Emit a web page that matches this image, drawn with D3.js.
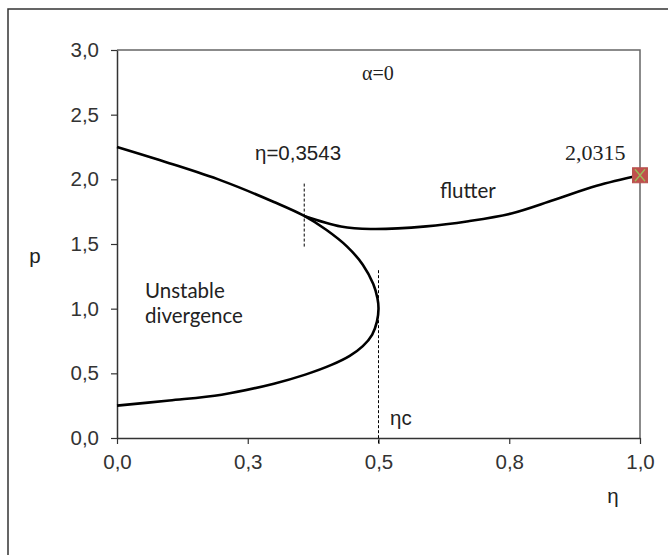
<!DOCTYPE html>
<html>
<head>
<meta charset="utf-8">
<script src="https://cdn.jsdelivr.net/npm/d3@7/dist/d3.min.js"></script>
<style>
  body { margin: 0; background: #fff; }
  svg { display: block; }
</style>
</head>
<body>
<svg id="chart" width="668" height="555"></svg>
<script>
// divergence boundary: upper branch down to the nose at eta=0.5, then back along the lower branch
var divEta = [0, 0.1, 0.2, 0.3, 0.358, 0.4, 0.44, 0.47, 0.49, 0.498, 0.5, 0.497, 0.488, 0.47, 0.445, 0.41, 0.36, 0.3, 0.2, 0.1, 0];
var divP   = [2.25, 2.125, 1.99, 1.825, 1.717, 1.61, 1.48, 1.34, 1.19, 1.08, 1.0, 0.9, 0.8, 0.71, 0.635, 0.565, 0.49, 0.42, 0.335, 0.29, 0.25];

// flutter boundary
var flutEta = [0.358, 0.428, 0.485, 0.591, 0.672, 0.754, 0.835, 0.917, 1.0];
var flutP   = [1.717, 1.636, 1.616, 1.636, 1.676, 1.736, 1.84, 1.95, 2.0315];

var xTicks = [0, 0.25, 0.5, 0.75, 1.0];
var xTickLabels = ["0,0", "0,3", "0,5", "0,8", "1,0"];
var yTicks = [0, 0.5, 1.0, 1.5, 2.0, 2.5, 3.0];
var yTickLabels = ["0,0", "0,5", "1,0", "1,5", "2,0", "2,5", "3,0"];

var endPoint = {eta: 1.0, p: 2.0315};
var etaStar = 0.358, etaC = 0.5;

var svg = d3.select("#chart");
var margin = {left: 117, right: 28, top: 50, bottom: 117};
var W = 668, H = 555;

var x = d3.scaleLinear().domain([0, 1]).range([margin.left, W - margin.right]);
var y = d3.scaleLinear().domain([0, 3]).range([H - margin.bottom, margin.top]);

var sans = "'Liberation Sans', Arial, sans-serif";
var serif = "'Liberation Serif', 'Times New Roman', serif";
var calibri = "Lato, 'Open Sans', sans-serif";

// outer frame
svg.append("rect")
    .attr("x", 8).attr("y", 9)
    .attr("width", 720).attr("height", 620)
    .attr("fill", "none")
    .attr("stroke", "#333")
    .attr("stroke-width", 1.5);

// plot box (top and right sides)
svg.append("path")
    .attr("d", "M" + x(0) + "," + y(3) + "H" + x(1) + "V" + y(0))
    .attr("fill", "none")
    .attr("stroke", "#666")
    .attr("stroke-width", 1.5);

var xAxis = svg.append("g")
    .attr("transform", "translate(0," + y(0) + ")")
    .call(d3.axisBottom(x).tickValues(xTicks)
        .tickFormat(function(d, i) { return xTickLabels[i]; })
        .tickSize(6).tickSizeOuter(0).tickPadding(10));

var yAxis = svg.append("g")
    .attr("transform", "translate(" + x(0) + ",0)")
    .call(d3.axisLeft(y).tickValues(yTicks)
        .tickFormat(function(d, i) { return yTickLabels[i]; })
        .tickSize(6).tickSizeOuter(0).tickPadding(12));

[xAxis, yAxis].forEach(function(g) {
    g.select(".domain").attr("stroke", "#333").attr("stroke-width", 1.5);
    g.selectAll(".tick line").attr("stroke", "#333").attr("stroke-width", 1.2);
    g.selectAll(".tick text")
        .attr("fill", "#333")
        .style("font-family", sans)
        .style("font-size", "20.5px");
});

// dashed guide lines
var guides = [
    {eta: etaStar, p0: 1.48, p1: 1.98},
    {eta: etaC, p0: -0.04, p1: 1.3}
];
svg.selectAll(".guide").data(guides).enter().append("line")
    .attr("class", "guide")
    .attr("x1", function(d) { return x(d.eta); })
    .attr("x2", function(d) { return x(d.eta); })
    .attr("y1", function(d) { return y(d.p0); })
    .attr("y2", function(d) { return y(d.p1); })
    .attr("stroke", "#000")
    .attr("stroke-width", 1)
    .attr("stroke-dasharray", "3,2");

var line = d3.line()
    .x(function(d) { return x(d[0]); })
    .y(function(d) { return y(d[1]); })
    .curve(d3.curveCatmullRom.alpha(0.5));

svg.append("path")
    .datum(d3.zip(divEta, divP))
    .attr("d", line)
    .attr("fill", "none")
    .attr("stroke", "#000")
    .attr("stroke-width", 2.6);

svg.append("path")
    .datum(d3.zip(flutEta, flutP))
    .attr("d", line)
    .attr("fill", "none")
    .attr("stroke", "#000")
    .attr("stroke-width", 2.6);

// end marker
var mx = x(endPoint.eta), my = y(endPoint.p), ms = 7.5;
svg.append("rect")
    .attr("x", mx - ms).attr("y", my - ms)
    .attr("width", ms * 2).attr("height", ms * 2)
    .attr("fill", "#C0504D")
    .attr("stroke", "#B85450")
    .attr("stroke-width", 1);
svg.append("path")
    .attr("d", "M" + (mx - 5) + "," + (my - 6) + "L" + (mx + 5) + "," + (my + 6) +
               "M" + (mx + 5) + "," + (my - 6) + "L" + (mx - 5) + "," + (my + 6))
    .attr("stroke", "#9BBB59")
    .attr("stroke-width", 1.4);

// labels
var labels = [
    {t: "α=0", x: 378, y: 80, f: serif, s: 20, a: "middle"},
    {t: "η=0,3543", x: 255, y: 160, f: sans, s: 20.5, a: "start"},
    {t: "2,0315", x: 565, y: 160, f: serif, s: 22, a: "start"},
    {t: "flutter", x: 440, y: 198, f: calibri, s: 20.5, a: "start"},
    {t: "Unstable", x: 145, y: 298, f: calibri, s: 20.5, a: "start"},
    {t: "divergence", x: 145, y: 323, f: calibri, s: 20.5, a: "start"},
    {t: "ηc", x: 390, y: 425, f: sans, s: 20.5, a: "start"},
    {t: "p", x: 35, y: 263, f: sans, s: 20.5, a: "middle"},
    {t: "η", x: 613, y: 503, f: sans, s: 20.5, a: "middle"}
];
svg.selectAll(".lbl").data(labels).enter().append("text")
    .attr("class", "lbl")
    .attr("x", function(d) { return d.x; })
    .attr("y", function(d) { return d.y; })
    .attr("text-anchor", function(d) { return d.a; })
    .style("font-family", function(d) { return d.f; })
    .style("font-size", function(d) { return d.s + "px"; })
    .attr("fill", "#222")
    .text(function(d) { return d.t; });
</script>
</body>
</html>
